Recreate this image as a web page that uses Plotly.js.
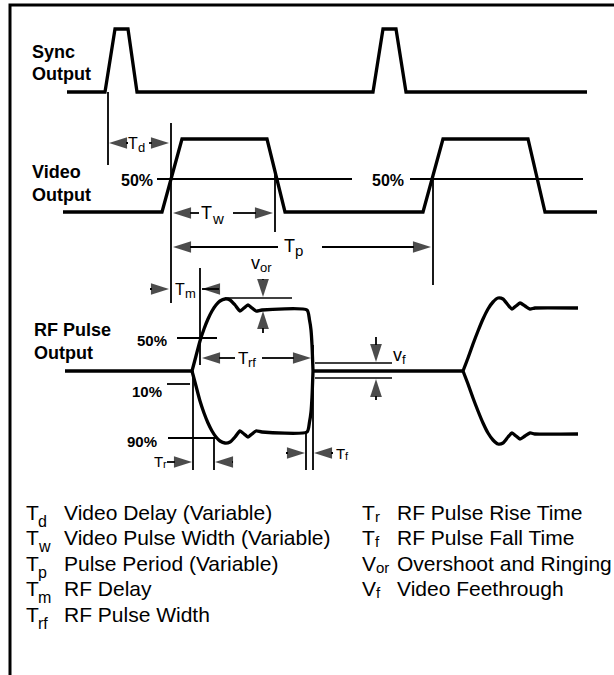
<!DOCTYPE html>
<html>
<head>
<meta charset="utf-8">
<script src="https://cdn.plot.ly/plotly-3.0.1.min.js"></script>
<style>html,body{margin:0;padding:0;background:#fff;}#chart{width:614px;height:675px;}</style>
</head>
<body>
<div id="chart"></div>
<script>
// ---- Waveform data (time axis, signal level) ----
// Sync output
const syncT = [67, 105, 115, 128, 137, 373, 383, 396, 406, 587];
const syncV = [92, 92, 29, 29, 92, 92, 29, 29, 92, 92];
// Video output
const videoT = [63, 162, 182, 267, 285, 423, 443, 528, 545, 597];
const videoV = [212, 212, 139, 139, 212, 212, 139, 139, 212, 212];
// RF pulse output: baseline level and envelope amplitudes
const rfBase = 371;
const rfBaseT1 = [65, 192];
const rfBaseT2 = [313, 463];
const rf1T = [192, 196, 200, 204, 208, 212, 216, 220, 225, 230, 235, 240, 244, 248, 252, 256, 262, 307, 309.5, 311, 312, 313];
const rf1A = [0, 15, 30, 42, 52, 60, 66, 70, 72, 71, 66, 60, 63, 66, 63, 60, 61, 61, 51, 41, 26, 0];
const rf2T = [463, 468, 473, 478, 483, 488, 493, 498, 503, 508, 512, 516, 520, 525, 530, 535, 578];
const rf2A = [0, 13, 27, 40, 52, 62, 69, 73, 72, 66, 62, 65, 68, 65, 62, 63, 63];
// Video feedthrough level band
const vfLevels = [363, 378];
const vfT = [315, 392];

// Legend entries
const legendLeftSym = ['T', 'T', 'T', 'T', 'T'];
const legendLeftSub = ['d', 'w', 'p', 'm', 'rf'];
const legendLeftTxt = ['Video Delay (Variable)', 'Video Pulse Width (Variable)', 'Pulse Period (Variable)', 'RF Delay', 'RF Pulse Width'];
const legendRightSym = ['T', 'T', 'V', 'V'];
const legendRightSub = ['r', 'f', 'or', 'f'];
const legendRightTxt = ['RF Pulse Rise Time', 'RF Pulse Fall Time', 'Overshoot and Ringing', 'Video Feethrough'];

const FONT = 'Liberation Sans, Arial, Helvetica, sans-serif';
const BLACK = '#000';
const traces = [];
function line(x, y, w) {
  traces.push({x: x, y: y, type: 'scatter', mode: 'lines', hoverinfo: 'skip',
    line: {color: BLACK, width: w, shape: 'linear'}});
}
function sline(x, y, w) {
  traces.push({x: x, y: y, type: 'scatter', mode: 'lines', hoverinfo: 'skip',
    line: {color: BLACK, width: w, shape: 'spline', smoothing: 0.6}});
}
function arr(hx, hy, tx, ty) {
  traces.push({x: [tx, hx], y: [ty, hy], type: 'scatter', mode: 'lines+markers', hoverinfo: 'skip',
    line: {color: BLACK, width: 1.8},
    marker: {symbol: 'arrow', size: [0, 19], angleref: 'previous', color: BLACK, line: {width: 0}}});
}
const W = 3.3, R = 1.8;
// frame
line([10, 10, 614], [675, 5, 5], 3);
// waveforms
line(syncT, syncV, W);
line(videoT, videoV, W);
line(rfBaseT1, [rfBase, rfBase], W);
line(rfBaseT2, [rfBase, rfBase], W);
sline(rf1T, rf1A.map(a => rfBase - a), W);
sline(rf1T, rf1A.map(a => rfBase + a), W);
sline(rf2T, rf2A.map(a => rfBase - a), W);
sline(rf2T, rf2A.map(a => rfBase + a), W);
// reference lines
line([157, 352], [179, 179], R);
line([410, 583], [179, 179], R);
line([108, 108], [92, 165], R);
line([171, 171], [123, 303], R);
line([275, 275], [168, 232], R);
line([433, 433], [180, 285], R);
line([200, 200], [268, 365], R);
line([193, 193], [371, 470], R);
line([214, 214], [438, 470], R);
line([306, 306], [432, 470], R);
line([313, 313], [345, 470], R);
line([177, 217], [338, 338], R);
line([167, 190], [384, 384], R);
line([168, 217], [438, 438], R);
line([225, 292], [298, 298], 1.4);
line(vfT, [vfLevels[0], vfLevels[0]], 1.6);
line(vfT, [vfLevels[1], vfLevels[1]], 1.6);
// timing arrows
arr(109, 143, 128, 143); arr(169, 143, 149, 143);
arr(173, 213, 199, 213); arr(273, 213, 233, 213);
arr(173, 247, 278, 247); arr(431, 247, 322, 247);
arr(169, 289, 150, 289); arr(202, 289, 219, 289);
arr(263, 297, 263, 279); arr(263, 311, 263, 333);
arr(202, 358, 235, 358); arr(311, 358, 262, 358);
arr(376, 362, 376, 337); arr(376, 379, 376, 400);
arr(192, 462, 167, 462); arr(215, 462, 233, 462);
arr(305, 453, 286, 453); arr(314, 453, 333, 453);

const ann = [];
function txt(x, y, t, size, anchor, bold) {
  ann.push({x: x, y: y, xref: 'x', yref: 'y', text: t, showarrow: false,
    xanchor: anchor || 'left', yanchor: 'middle', borderpad: 0,
    font: {family: FONT, size: size, color: BLACK, weight: bold ? 'bold' : 'normal'}});
}
// symbol with subscript: main glyph left edge x, cap centre y
function sym(x, y, main, sub, size, subSize, mainW, drop) {
  txt(x, y, main, size, 'left');
  txt(x + mainW, y + drop, sub, subSize, 'left');
}
// channel labels
txt(31, 52, 'Sync', 18, 'left', true);
txt(31, 74, 'Output', 18, 'left', true);
txt(31, 172, 'Video', 18, 'left', true);
txt(31, 195, 'Output', 18, 'left', true);
txt(33, 330, 'RF Pulse', 18, 'left', true);
txt(33, 353, 'Output', 18, 'left', true);
// level labels
txt(154, 180, '50%', 16, 'right', true);
txt(405, 180, '50%', 16, 'right', true);
txt(168, 340, '50%', 15, 'right', true);
txt(163, 391, '10%', 15, 'right', true);
txt(158, 441, '90%', 15, 'right', true);
// timing labels
sym(127, 143, 'T', 'd', 16, 13, 9.5, 4);
sym(200, 213, 'T', 'w', 18, 15, 10.5, 5);
sym(283, 246, 'T', 'p', 18, 15, 10.5, 4);
sym(174, 289, 'T', 'm', 16, 13, 9.5, 4);
sym(250, 263, 'v', 'or', 18, 13, 9, 4);
sym(237, 358, 'T', 'rf', 17, 13, 10, 4);
sym(392, 355, 'v', 'f', 18, 13, 9, 4);
sym(153, 461, 'T', 'r', 15, 11, 9, 3);
sym(335, 453, 'T', 'f', 15, 11, 9, 3);
// legend
const rowY = [512, 537.5, 563, 588.5, 614];
legendLeftSym.forEach((s, i) => sym(25, rowY[i], s, legendLeftSub[i], 21, 16, 12, 9));
legendLeftTxt.forEach((s, i) => txt(63, rowY[i], s, 21, 'left'));
legendRightSym.forEach((s, i) => sym(361, rowY[i], s, legendRightSub[i], 21, 15, s === 'V' ? 13.5 : 12.5, 4));
legendRightTxt.forEach((s, i) => txt(396, rowY[i], s, 21, 'left'));

const layout = {
  width: 614, height: 675, margin: {l: 0, r: 0, t: 0, b: 0, pad: 0},
  paper_bgcolor: '#fff', plot_bgcolor: '#fff', showlegend: false,
  xaxis: {range: [0, 614], visible: false, fixedrange: true},
  yaxis: {range: [675, 0], visible: false, fixedrange: true},
  annotations: ann
};
Plotly.newPlot('chart', traces, layout, {staticPlot: true, displayModeBar: false});
</script>
</body>
</html>
